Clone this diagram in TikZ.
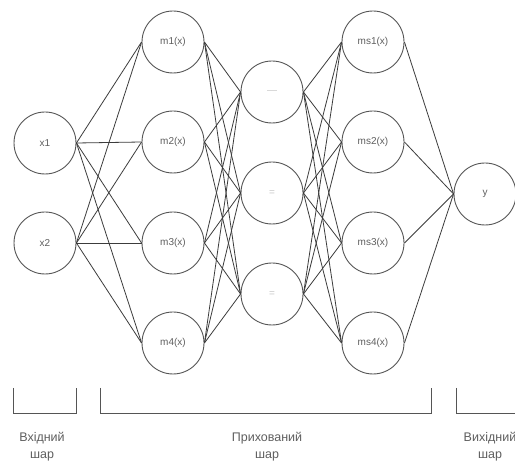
\documentclass[tikz,border=0pt]{standalone}
\usepackage{fontspec}
\setmainfont{Liberation Sans}
\usepackage{xcolor}
\usepackage{tikz}
\usetikzlibrary{
  arrows.meta,
  positioning,
  calc
}
\definecolor{EdgeGray}{RGB}{60,60,60}
\definecolor{RingGray}{RGB}{85,85,85}
\definecolor{TextGray}{RGB}{95,95,95}
\definecolor{FaintGray}{RGB}{200,200,200}
\tikzset{
  %%-- нейрони ------------------------------------------------
  neuron/.style = {
    circle, draw = RingGray, line width = 0.9pt,
    minimum size = 62pt, inner sep = 0pt,
    font = \fontsize{10}{11}\selectfont, text = TextGray
  },
  %%-- зв'язки ------------------------------------------------
  link/.style = {line width = 0.8pt, color = EdgeGray},
  %%-- дужки шарів та підписи --------------------------------
  brace/.style = {line width = 0.8pt, color = RingGray},
  layername/.style = {
    align = center, font = \fontsize{12.5}{17}\selectfont, text = TextGray
  }
}

\begin{document}
\begin{tikzpicture}[x=1pt, y=-1pt]
  \clip (0,0) rectangle (515,462);
  \fill[white] (0,0) rectangle (515,462);

  % вхідний шар
  \node[neuron] (x1) at (45,143) {x1};
  \node[neuron] (x2) at (45,243) {x2};

  % перший прихований шар
  \node[neuron] (m1) at (173,42)  {m1(x)};
  \node[neuron] (m2) at (173,142) {m2(x)};
  \node[neuron] (m3) at (173,243) {m3(x)};
  \node[neuron] (m4) at (173,343) {m4(x)};

  % середній шар
  \node[neuron] (h1) at (272,92)  {\textcolor{FaintGray}{---}};
  \node[neuron] (h2) at (272,193) {\textcolor{FaintGray}{=}};
  \node[neuron] (h3) at (272,294) {\textcolor{FaintGray}{=}};

  % другий прихований шар
  \node[neuron] (ms1) at (373,42)  {ms1(x)};
  \node[neuron] (ms2) at (373,142) {ms2(x)};
  \node[neuron] (ms3) at (373,243) {ms3(x)};
  \node[neuron] (ms4) at (373,343) {ms4(x)};

  % вихід
  \node[neuron] (y) at (485,194) {y};

  % зв'язки між шарами
  \foreach \i in {1,2}
    \foreach \j in {1,...,4}
      \draw[link] (x\i.east) -- (m\j.west);
  \foreach \i in {1,...,4}
    \foreach \j in {1,2,3}
      \draw[link] (m\i.east) -- (h\j.west);
  \foreach \i in {1,2,3}
    \foreach \j in {1,...,4}
      \draw[link] (h\i.east) -- (ms\j.west);
  \foreach \j in {1,...,4}
    \draw[link] (ms\j.east) -- (y.west);

  % дужки під шарами
  \coordinate (inL) at (13,388);   \coordinate (inR) at (76,388);
  \coordinate (hidL) at (100,388); \coordinate (hidR) at (431,388);
  \coordinate (outL) at (456,388); \coordinate (outR) at (530,388);
  \draw[brace] (inL) -- ++(0,25) -| (inR);
  \draw[brace] (hidL) -- ++(0,25) -| (hidR);
  \draw[brace] (outL) -- ++(0,25) -| (outR);

  \node[layername] (inName)  at (42,447)  {Вхідний\\шар};
  \node[layername] (hidName) at (267,447) {Прихований\\шар};
  \node[layername] (outName) at (490,447) {Вихідний\\шар};
\end{tikzpicture}
\end{document}
